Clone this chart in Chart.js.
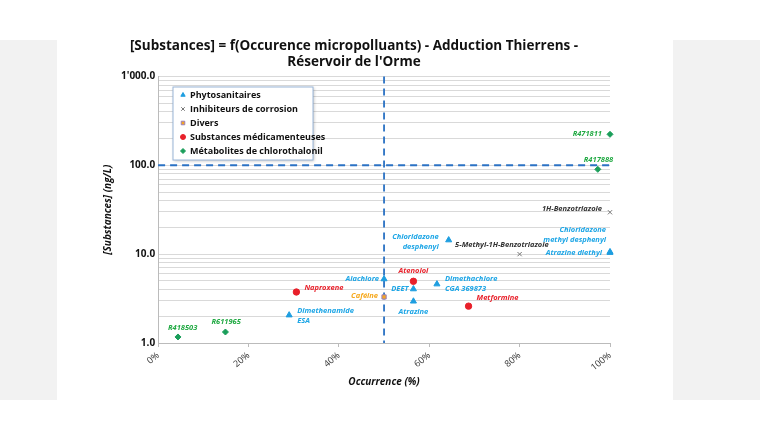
<!DOCTYPE html>
<html><head><meta charset="utf-8">
<script src="https://cdn.jsdelivr.net/npm/chart.js@4/dist/chart.umd.min.js"></script>
<style>html,body{margin:0;background:#fff}#w{width:760px;height:440px}</style>
</head><body><div id="w"><canvas id="c"></canvas></div>
<script>
const phytoNames=["Dimethenamide ESA","Alachlore","DEET","Atrazine","Dimethachlore CGA 369873","Chloridazone desphenyl","Chloridazone methyl desphenyl","Atrazine diethyl"];
const phytoX=[29,50,56.5,56.5,61.7,64.3,100,100];
const phytoY=[2.06,5.25,4.05,2.95,4.6,14.4,10.6,10.4];
const corrNames=["5-Methyl-1H-Benzotriazole","1H-Benzotriazole"];
const corrX=[80,100];
const corrY=[10,29.6];
const diversNames=["Caféine"];
const diversX=[50];
const diversY=[3.3];
const medNames=["Naproxene","Atenolol","Metformine"];
const medX=[30.6,56.5,68.7];
const medY=[3.75,4.95,2.6];
const metaNames=["R418503","R611965","R417888","R471811"];
const metaX=[4.4,14.9,97.3,100];
const metaY=[1.17,1.33,90,223];
const xTicks=[0,20,40,60,80,100];
const yTicks=[1,10,100,1000];

const pts=(xs,ys)=>xs.map((x,i)=>({x,y:ys[i]}));
const labelPos={
 "Dimethenamide ESA":[8,1,"left",["Dimethenamide","ESA"]],
 "Alachlore":[-5,0,"right"],
 "DEET":[-5,0,"right"],
 "Atrazine":[0,11,"center"],
 "Dimethachlore CGA 369873":[8,0,"left",["Dimethachlore","CGA 369873"]],
 "Chloridazone desphenyl":[-10,2,"right",["Chloridazone","desphenyl"]],
 "Chloridazone methyl desphenyl":[-4,-17,"right",["Chloridazone","methyl desphenyl"]],
 "Atrazine diethyl":[-8,0,"right"],
 "5-Methyl-1H-Benzotriazole":[29,-9,"right"],
 "1H-Benzotriazole":[-8,-3,"right"],
 "Caféine":[-6,-1,"right"],
 "Naproxene":[8,-4,"left"],
 "Atenolol":[0,-10,"center"],
 "Metformine":[8,-8,"left"],
 "R418503":[-10,-9,"left"],
 "R611965":[-14,-10,"left"],
 "R417888":[-14,-9,"left"],
 "R471811":[-8,0,"right"]
};
const ds=[
 {label:"Phytosanitaires",data:pts(phytoX,phytoY),names:phytoNames,pointStyle:"triangle",backgroundColor:"#1e9ee0",borderColor:"#1e9ee0",radius:3.5,color:"#1ea6e6",clip:false},
 {label:"Inhibiteurs de corrosion",data:pts(corrX,corrY),names:corrNames,pointStyle:"crossRot",backgroundColor:"#888",borderColor:"#777",radius:3,color:"#333",clip:false},
 {label:"Divers",data:pts(diversX,diversY),names:diversNames,pointStyle:"rect",backgroundColor:"#f5a623",borderColor:"#9b7fb8",radius:3,color:"#f6a81c",clip:false},
 {label:"Substances médicamenteuses",data:pts(medX,medY),names:medNames,pointStyle:"circle",backgroundColor:"#e8202a",borderColor:"#e8202a",radius:3.2,color:"#e8202a",clip:false},
 {label:"Métabolites de chlorothalonil",data:pts(metaX,metaY),names:metaNames,pointStyle:"rectRot",backgroundColor:"#1a9e5a",borderColor:"#1a9e5a",radius:3,color:"#22aa44",clip:false}
];
const deco={id:"deco",
 beforeDraw(c){const g=c.ctx;g.save();g.fillStyle="#f2f2f2";g.fillRect(0,40,57,360);g.fillRect(673,40,87,360);g.restore();},
 beforeDatasetsDraw(c){const g=c.ctx,x=c.scales.x,y=c.scales.y,a=c.chartArea;g.save();
  g.strokeStyle="#2b72c4";g.lineWidth=1.8;g.setLineDash([7,5]);
  g.beginPath();g.moveTo(x.getPixelForValue(50),a.top);g.lineTo(x.getPixelForValue(50),a.bottom);g.stroke();
  g.beginPath();g.moveTo(a.left,y.getPixelForValue(100));g.lineTo(a.right,y.getPixelForValue(100));g.stroke();
  g.restore();},
 afterDatasetsDraw(c){const g=c.ctx;g.save();
  g.font="italic bold 7.5px 'Open Sans'";g.textBaseline="middle";
  c.data.datasets.forEach((d,di)=>{const m=c.getDatasetMeta(di);d.names.forEach((n,i)=>{const p=m.data[i];const L=labelPos[n];
   const lines=L[3]||[n];g.fillStyle=d.color;g.textAlign=L[2];
   lines.forEach((t,k)=>g.fillText(t,p.x+L[0],p.y+L[1]+(k-(lines.length-1)/2)*10));});});
  const lx=173,ly=87,lw=140,lh=73;g.fillStyle="#fff";g.strokeStyle="#9ab6d8";g.lineWidth=1;
  g.shadowColor="rgba(0,0,0,0.25)";g.shadowBlur=3;g.shadowOffsetX=1;g.shadowOffsetY=1;
  g.fillRect(lx,ly,lw,lh);g.shadowColor="transparent";g.strokeRect(lx,ly,lw,lh);
  g.font="bold 9px 'Open Sans'";g.textAlign="left";
  c.data.datasets.forEach((d,di)=>{const yy=ly+8+di*14;
   g.fillStyle=d.backgroundColor;g.strokeStyle=d.borderColor;
   Chart.helpers.drawPoint(g,{pointStyle:d.pointStyle,radius:2.5,borderWidth:1},lx+10,yy);
   g.fillStyle="#111";g.fillText(d.label,lx+17,yy);});
  g.restore();}
};
new Chart(document.getElementById("c"),{type:"scatter",data:{datasets:ds},plugins:[deco],
options:{responsive:true,maintainAspectRatio:false,animation:false,
 layout:{padding:{left:98,right:150,top:0,bottom:52}},
 plugins:{legend:{display:false},tooltip:{enabled:false},
  title:{display:true,text:["[Substances] = f(Occurence micropolluants) - Adduction Thierrens -","Réservoir de l'Orme"],color:"#111",font:{family:"'Open Sans'",size:13.5,weight:"bold"},padding:{top:38,bottom:6},align:"center"}},
 scales:{
  x:{type:"linear",min:0,max:100,afterBuildTicks:s=>{s.ticks=xTicks.map(v=>({value:v}))},
   ticks:{callback:v=>v+"%",maxRotation:40,minRotation:40,color:"#333",font:{family:"'Open Sans'",size:9}},
   grid:{display:true,drawOnChartArea:false,color:"#bbb",tickLength:4},border:{color:"#bbb"},
   title:{display:true,text:"Occurrence (%)",color:"#111",font:{family:"'Open Sans'",size:10,weight:"bold",style:"italic"},padding:0}},
  y:{type:"logarithmic",min:1,max:1000,
   afterBuildTicks:s=>{const t=[];for(let e=0;e<3;e++)for(let k=1;k<10;k++)t.push({value:k*Math.pow(10,e)});t.push({value:1000});s.ticks=t;},
   ticks:{autoSkip:false,callback:v=>yTicks.includes(v)?(v===1000?"1'000.0":v.toFixed(1)):"",color:"#111",font:{family:"'Open Sans'",size:10,weight:"bold"}},
   grid:{color:"#d9d9d9",drawTicks:false},border:{color:"#bbb"},
   title:{display:true,text:"[Substances] (ng/L)",color:"#111",font:{family:"'Open Sans'",size:10,weight:"bold",style:"italic"}}}
 }}});
</script></body></html>
